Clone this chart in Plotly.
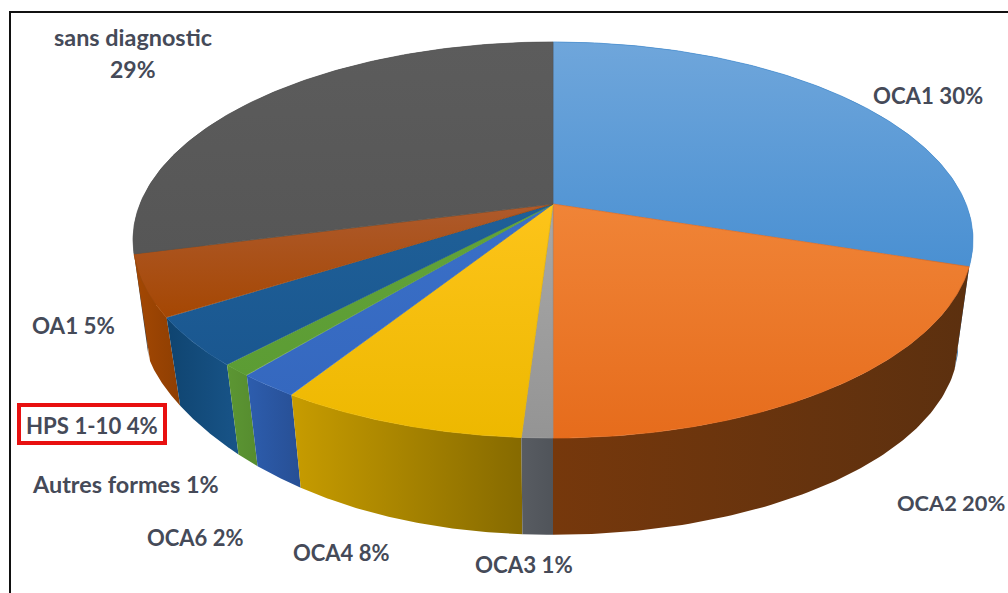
import numpy as np
import plotly.graph_objects as go

# ---- data ----
categories = ["OCA1", "OCA2", "OCA3", "OCA4", "OCA6", "Autres formes", "HPS 1-10", "OA1", "sans diagnostic"]
values = [30, 20, 1, 8, 2, 1, 4, 5, 29]
label_texts = ["OCA1 30%", "OCA2 20%", "OCA3 1%", "OCA4 8%", "OCA6 2%", "Autres formes 1%",
               "HPS 1-10 4%", "OA1 5%", "sans diagnostic", "29%"]

# ---- styles ----
top_colors = [
    ["#6fa6db", "#4a90d2"], ["#f08437", "#e66c1c"], ["#a8a8a8", "#949494"], ["#fdc41a", "#edb800"],
    ["#3a70c8", "#3568bf"], ["#62a43a", "#5c9c34"], ["#1f6098", "#1a5790"], ["#ae5a2c", "#a54703"],
    ["#5c5c5c", "#565656"],
]
side_colors = [
    ["#2f6ea8", "#2f6ea8"], ["#76380c", "#5c300f"], ["#585c62", "#50545a"], ["#c79c00", "#866a00"],
    ["#2d5dae", "#274f94"], ["#5c9633", "#568c2f"], ["#0f4470", "#185488"], ["#a44803", "#8e3e02"],
    ["#444444", "#444444"],
]
label_style = {  # anchor x, centre y in the image's pixels, font size
    "OCA1 30%": (871, 95, 22.2, "left"), "OCA2 20%": (895, 502, 21.8, "left"),
    "OCA3 1%": (473, 564, 22.3, "left"), "OCA4 8%": (291, 552, 22, "left"),
    "OCA6 2%": (145, 537, 22, "left"), "Autres formes 1%": (30, 484, 23.4, "left"),
    "HPS 1-10 4%": (24, 425, 22.2, "left"), "OA1 5%": (30, 325, 22.4, "left"),
    "sans diagnostic": (133, 37, 23.4, "center"), "29%": (133, 69, 23, "center"),
}
CX, CY = 553, 204
A, B, K = 413, 191.5, 0.1818
S, D = 0.965, 105
LIFT, LIFT_FROM, LIFT_SPAN = 13.0, np.pi, np.radians(75.6)


def project(theta, depth=False):
    x, y = np.sin(theta), np.cos(theta)
    den = 1 + K * y
    sx, sy = A * x / den, B * y / den
    if depth:
        u = np.clip((theta - LIFT_FROM) / LIFT_SPAN, 0, 1)
        lift = LIFT * 9.48 * u ** 3 * (1 - u)
        return CX + S * sx, CY + D - S * sy - lift
    return CX + sx, CY - sy


fig = go.Figure()
edges = np.cumsum([0] + values) / sum(values) * 2 * np.pi
spans = list(zip(edges[:-1], edges[1:]))

# side walls back to front; the top faces then cover whatever is hidden
order = sorted(range(len(values)), key=lambda i: -np.cos((spans[i][0] + spans[i][1]) / 2))
for i in order:
    t0, t1 = spans[i]
    cat, col = categories[i], side_colors[i]
    th = np.linspace(t0, t1, 80)
    xt, yt = project(th)
    xb, yb = project(th, True)
    fig.add_trace(go.Scatter(
        x=np.r_[xt, xb[::-1]], y=np.r_[yt, yb[::-1]], mode="lines", fill="toself",
        line=dict(width=0), name=cat + " side", hoverinfo="skip",
        fillgradient=dict(type="horizontal", colorscale=[[0, col[0]], [1, col[1]]]),
    ))

for (t0, t1), cat, col in zip(spans, categories, top_colors):
    th = np.linspace(t0, t1, 160)
    xt, yt = project(th)
    fig.add_trace(go.Scatter(
        x=np.r_[CX, xt, CX], y=np.r_[CY, yt, CY], mode="lines", fill="toself",
        line=dict(width=0.7, color=col[1]), name=cat,
        fillgradient=dict(type="vertical", colorscale=[[0, col[1]], [1, col[0]]]),
    ))

for txt in label_texts:
    x, y, size, anchor = label_style[txt]
    fig.add_annotation(x=x, y=y, text="<b>%s</b>" % txt, showarrow=False, xanchor=anchor,
                       yanchor="middle", align=anchor,
                       font=dict(family="Lato, 'Open Sans', sans-serif", size=size, color="#454a58"))

fig.update_layout(
    width=1008, height=593, autosize=False, margin=dict(l=0, r=0, t=0, b=0),
    paper_bgcolor="white", plot_bgcolor="white", showlegend=False,
    xaxis=dict(range=[0, 1008], visible=False, fixedrange=True),
    yaxis=dict(range=[593, 0], visible=False, fixedrange=True),
    shapes=[
        dict(type="line", x0=10, x1=10, y0=11, y1=593, line=dict(color="#111111", width=2)),
        dict(type="line", x0=9, x1=1008, y0=12, y1=12, line=dict(color="#111111", width=2)),
        dict(type="rect", x0=19, x1=165, y0=405, y1=443, line=dict(color="#e81010", width=4)),
    ],
)
fig.write_html("out.html", post_script="document.body.style.margin='0';", config={"displayModeBar": False})
